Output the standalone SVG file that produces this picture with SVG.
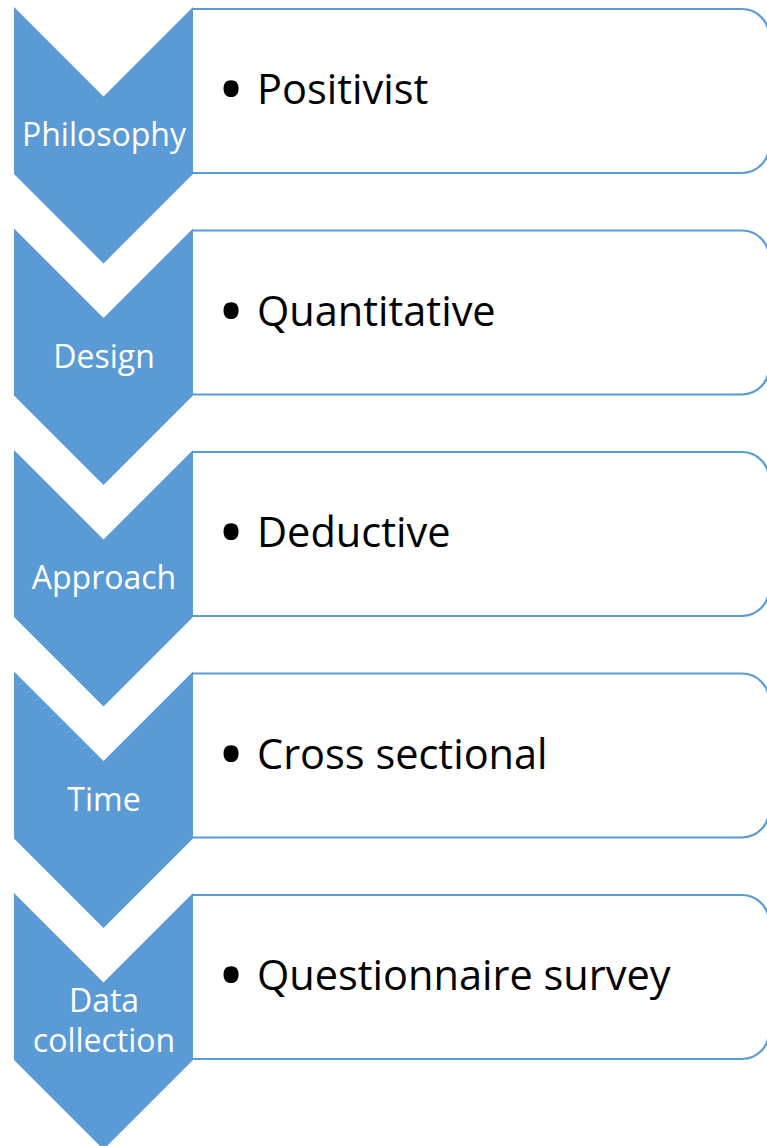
<svg xmlns="http://www.w3.org/2000/svg" width="767" height="1146" viewBox="0 0 767 1146">
<defs>
<style>
.chev{fill:#5B9BD5;}
.box{fill:#FFFFFF;stroke:#5B9BD5;stroke-width:2.2;}
.lbl{font-family:"Open Sans","Liberation Sans",sans-serif;font-size:32px;fill:#FFFFFF;text-anchor:middle;}
.item{font-family:"Open Sans","Liberation Sans",sans-serif;font-size:41.5px;fill:#000000;}
.bul{font-family:"Open Sans","Liberation Sans",sans-serif;font-size:72px;fill:#000000;text-anchor:middle;}
</style>
<path id="chevShape" d="M14,7 L103.5,96.5 L193,7 L193,174 L103.5,263.5 L14,174 Z"/>
<path id="boxShape" d="M193,9 H742 A27,27 0 0 1 769,36 V146 A27,27 0 0 1 742,173 H193"/>
</defs>
<rect width="767" height="1146" fill="#FFFFFF"/>
<g id="connectors"></g>
<g id="step1">
<use href="#boxShape" class="box"/>
<use href="#chevShape" class="chev"/>
<text class="lbl" x="104" y="146">Philosophy</text>
<text class="bul" x="231" y="115">•</text>
<text class="item" x="257" y="104">Positivist</text>
</g>
<g id="step2" transform="translate(0,221.5)">
<use href="#boxShape" class="box"/>
<use href="#chevShape" class="chev"/>
<text class="lbl" x="104" y="146">Design</text>
<text class="bul" x="231" y="115">•</text>
<text class="item" x="257" y="104">Quantitative</text>
</g>
<g id="step3" transform="translate(0,443)">
<use href="#boxShape" class="box"/>
<use href="#chevShape" class="chev"/>
<text class="lbl" x="104" y="146">Approach</text>
<text class="bul" x="231" y="115">•</text>
<text class="item" x="257" y="104">Deductive</text>
</g>
<g id="step4" transform="translate(0,664.5)">
<use href="#boxShape" class="box"/>
<use href="#chevShape" class="chev"/>
<text class="lbl" x="104" y="146">Time</text>
<text class="bul" x="231" y="115">•</text>
<text class="item" x="257" y="104">Cross sectional</text>
</g>
<g id="step5" transform="translate(0,886)">
<use href="#boxShape" class="box"/>
<use href="#chevShape" class="chev"/>
<text class="lbl" x="104" y="126">Data</text>
<text class="lbl" x="104" y="166">collection</text>
<text class="bul" x="231" y="115">•</text>
<text class="item" x="257" y="104">Questionnaire survey</text>
</g>
</svg>
